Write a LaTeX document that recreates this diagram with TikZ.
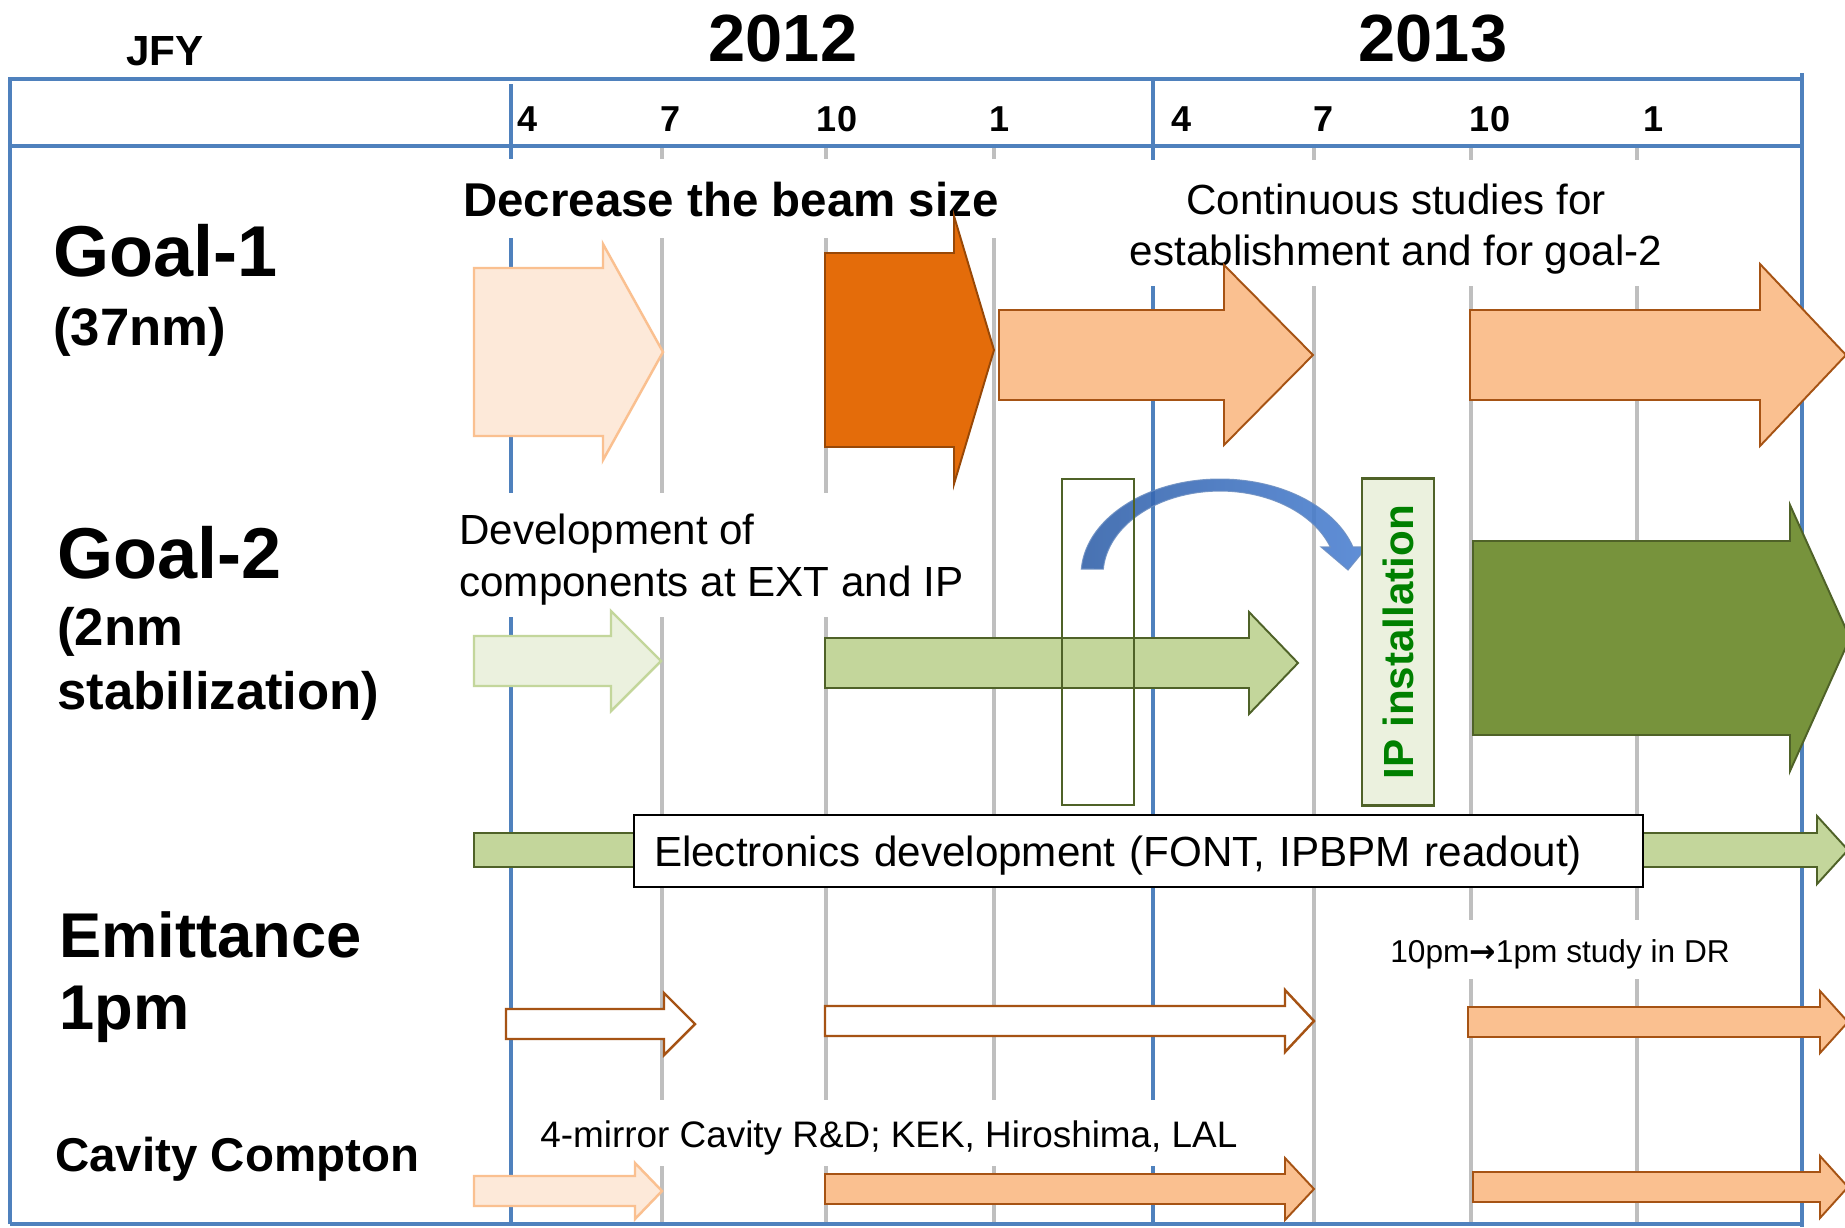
\documentclass[tikz,border=0pt]{standalone}
\usepackage{fontspec}
\setmainfont{Liberation Sans}
\newfontfamily\arrowfont{DejaVu Sans}

\definecolor{gridblue}{HTML}{4F81BD}
\definecolor{gridgray}{HTML}{BFBFBF}
\definecolor{peachpale}{HTML}{FDE9D9}
\definecolor{peachedge}{HTML}{FAC090}
\definecolor{peach}{HTML}{FAC090}
\definecolor{rust}{HTML}{A65314}
\definecolor{pumpkin}{HTML}{E46C0A}
\definecolor{pumpkinedge}{HTML}{984807}
\definecolor{olivepale}{HTML}{EBF1DE}
\definecolor{olivelight}{HTML}{C3D69B}
\definecolor{olive}{HTML}{77933C}
\definecolor{olivedark}{HTML}{4F6228}
\definecolor{ipgreen}{HTML}{008000}
\definecolor{swoopdark}{HTML}{2F5FA8}
\definecolor{swooplight}{HTML}{8CB4EC}
\definecolor{swoopmid}{HTML}{4A80D2}

\tikzset{
  frameline/.style={gridblue, line width=2.8pt},
  yearline/.style={gridblue, line width=2.5pt},
  monthline/.style={gridgray, line width=2.3pt},
  mask/.style={fill=white},
  yeartxt/.style={anchor=base, inner sep=0pt, font=\fontsize{38}{46}\selectfont\bfseries},
  monthtxt/.style={anchor=base, inner sep=0pt, font=\fontsize{20.5}{25}\selectfont\bfseries},
  goaltxt/.style={anchor=base west, inner sep=0pt, font=\fontsize{41}{49}\selectfont\bfseries},
  subtxt/.style={inner sep=0pt, align=left, font=\fontsize{30}{36.5}\selectfont\bfseries},
  notetxt/.style={inner sep=0pt, font=\fontsize{24}{29}\selectfont},
  paleorange/.style={fill=peachpale, draw=peachedge, line width=1.4pt},
  darkorange/.style={fill=pumpkin, draw=pumpkinedge, line width=1.1pt},
  midorange/.style={fill=peach, draw=rust, line width=1.1pt},
  hollow/.style={fill=white, draw=rust, line width=1.4pt},
  palegreen/.style={fill=olivepale, draw=olivelight, line width=1.4pt},
  midgreen/.style={fill=olivelight, draw=olivedark, line width=1.1pt},
  darkgreen/.style={fill=olive, draw=olivedark, line width=1.1pt}
}

% block arrow: style, left end, head start, tip, mid y, half body, half head
\newcommand{\blockarrow}[7]{%
  \draw[#1] (#2,#5-#6) -- (#3,#5-#6) -- (#3,#5-#7) -- (#4,#5)
    -- (#3,#5+#7) -- (#3,#5+#6) -- (#2,#5+#6) -- cycle;}

\begin{document}
\begin{tikzpicture}[x=0.02cm, y=-0.02cm]
  \useasboundingbox[fill=white] (0,0) rectangle (1845,1227);

  % years
  \node[anchor=base, inner sep=0pt, font=\fontsize{24}{29}\selectfont\bfseries] (jfy) at (165,65) {JFY};
  \node[yeartxt] (y2012) at (783,61) {2012};
  \node[yeartxt] (y2013) at (1433,61) {2013};

  % grid
  \draw[yearline] (511,84) -- (511,1224);
  \draw[yearline] (1153,79) -- (1153,1224);
  \foreach \x in {662,826,994,1314,1471,1637}
    \draw[monthline] (\x,146) -- (\x,1224);

  \draw[frameline] (10,1224) -- (10,79) -- (1802,79);
  \draw[frameline] (10,146) -- (1802,146);
  \draw[frameline] (1802,73) -- (1802,1227);
  \draw[frameline] (10,1224) -- (1802,1224);

  % months
  \foreach \x/\m in {528/4,671/7,837/10,1000/1,1181/4,1323/7,1490/10,1653/1}
    \node[monthtxt] (m\x) at (\x,131) {\m};

  % white text boxes over the grid
  \fill[mask] (455,159) rectangle (1008,238);
  \fill[mask] (1120,160) rectangle (1680,286);
  \fill[mask] (455,493) rectangle (980,617);
  \fill[mask] (1380,920) rectangle (1750,979);
  \fill[mask] (520,1100) rectangle (1290,1166);

  % row heads
  \node[goaltxt] (goal1) at (53,276) {Goal-1};
  \node[subtxt, anchor=base west] (goal1sub) at (53,345) {(37nm)};
  \node[goaltxt] (goal2) at (57,578) {Goal-2};
  \node[subtxt, anchor=north west] (goal2sub) at (57,607) {(2nm\\stabilization)};
  \node[inner sep=0pt, anchor=north west, align=left,
        font=\fontsize{36}{41.4}\selectfont\bfseries] (emit) at (59,911) {Emittance\\1pm};
  \node[anchor=base west, inner sep=0pt, font=\fontsize{27}{32}\selectfont\bfseries] (cavity) at (55,1171) {Cavity Compton};

  % notes
  \node[anchor=base west, inner sep=0pt, font=\fontsize{27}{32}\selectfont\bfseries] (beam) at (463,216) {Decrease the beam size};
  \node[notetxt, anchor=north, align=center, font=\fontsize{24}{28.7}\selectfont] (cont) at (1396,184) {Continuous studies for\\establishment and for goal-2};
  \node[notetxt, anchor=north west, align=left, font=\fontsize{24}{29.3}\selectfont] (devel) at (459,514) {Development of\\components at EXT and IP};
  \node[anchor=base west, inner sep=0pt, font=\fontsize{18}{22}\selectfont] (drnote) at (1390,962) {10pm{\arrowfont\bfseries →}1pm study in DR};
  \node[anchor=base west, inner sep=0pt, font=\fontsize{21}{25}\selectfont] (cavnote) at (540,1147) {4-mirror Cavity R\&D; KEK, Hiroshima, LAL};

  % goal-1
  \blockarrow{paleorange}{474}{603}{663}{352}{84}{108}
  \blockarrow{darkorange}{825}{954}{994}{350}{97}{134}
  \blockarrow{midorange}{999}{1224}{1313}{355}{45}{90}
  \blockarrow{midorange}{1470}{1760}{1846}{355}{45}{91}

  % goal-2
  \blockarrow{palegreen}{474}{611}{661}{661}{25}{50}
  \blockarrow{midgreen}{825}{1249}{1298}{663}{25}{51}
  \blockarrow{darkgreen}{1473}{1790}{1850}{638}{97}{133}

  \shade[left color=swoopdark, middle color=swooplight, right color=swoopmid,
         draw=swoopdark!70, line width=0.6pt, opacity=0.88]
    (1081.3,569) arc[start angle=183.6, end angle=343, x radius=139, y radius=96]
    -- (1367,547) -- (1348,570) -- (1321,547) -- (1330.3,547)
    arc[start angle=340.5, end angle=184.1, x radius=117, y radius=84] -- cycle;
  \draw[olivedark, line width=1.3pt] (1062,479) rectangle (1134,805);
  \node[fill=olivepale, draw=olivedark, line width=1.3pt, rotate=90, minimum width=6.54cm, minimum height=1.44cm,
        text=ipgreen, font=\fontsize{24}{29}\selectfont\bfseries] (ipinst) at (1398,642) {IP installation};

  % electronics
  \blockarrow{midgreen}{474}{1817}{1848}{850}{17}{34}
  \node[draw=black, fill=white, line width=1.2pt, anchor=west, minimum height=1.44cm,
        text width=19.38cm, text height=18pt, text depth=0pt, inner xsep=0.4cm, align=left,
        font=\fontsize{24}{29}\selectfont] (elec) at (633,851)
        {Electronics development (FONT, IPBPM readout)};

  % emittance
  \blockarrow{hollow}{506}{664}{695}{1024}{15}{31}
  \blockarrow{hollow}{825}{1285}{1314}{1021}{15}{31}
  \blockarrow{midorange}{1468}{1820}{1848}{1022}{15}{31}

  % cavity compton
  \blockarrow{paleorange}{474}{635}{662}{1191}{15}{28}
  \blockarrow{midorange}{825}{1285}{1314}{1189}{15}{31}
  \blockarrow{midorange}{1473}{1820}{1848}{1187}{15}{31}
\end{tikzpicture}
\end{document}
